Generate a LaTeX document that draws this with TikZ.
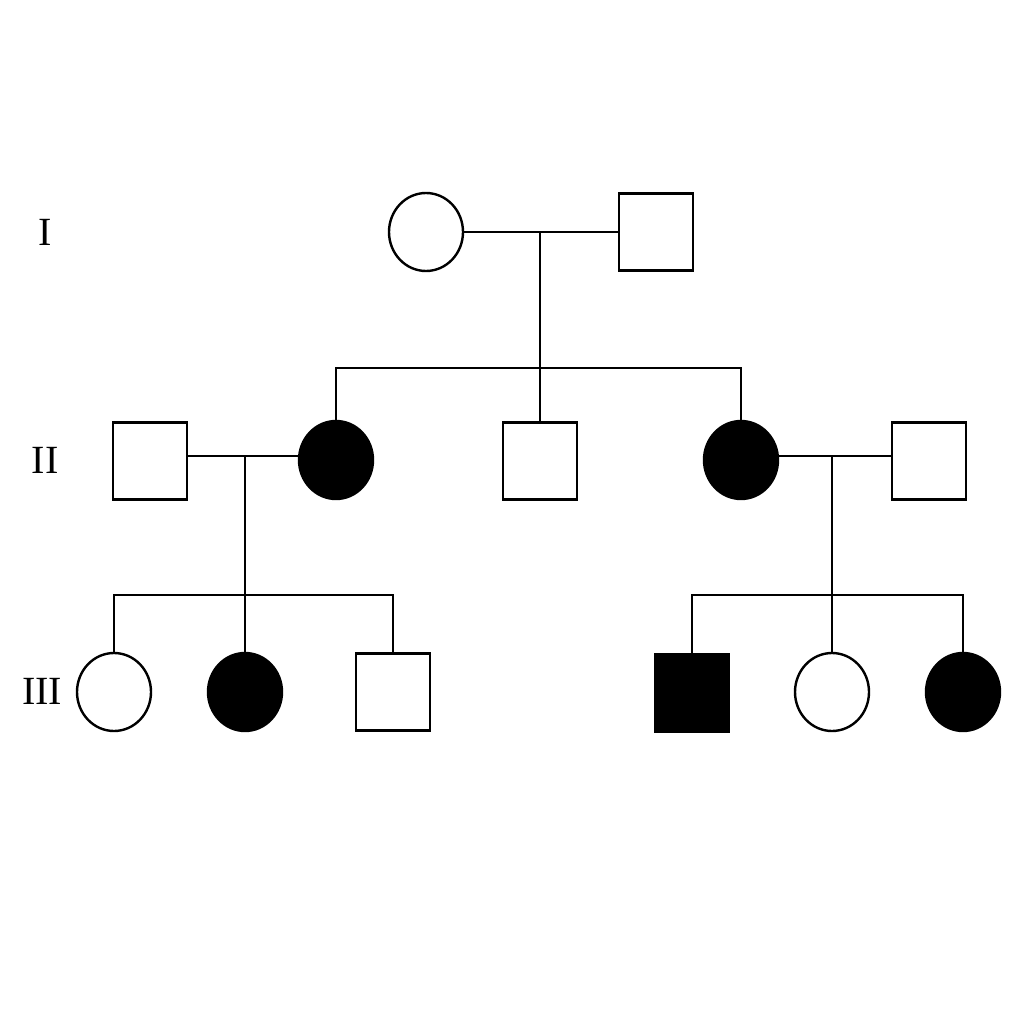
\documentclass[tikz,border=0pt]{standalone}
\usepackage{fontspec}
\setmainfont{Liberation Serif}
\usetikzlibrary{shapes.geometric}
\begin{document}
\begin{tikzpicture}[x=1pt,y=-1pt,line width=2.4pt,
  fem/.style={draw,ellipse,minimum width=74pt,minimum height=78pt,inner sep=0pt},
  mal/.style={draw,rectangle,minimum width=74pt,minimum height=77pt,inner sep=0pt},
  aff/.style={fill=black},
  gen/.style={font=\fontsize{40}{42}\selectfont,inner sep=0pt}]
\useasboundingbox (0,0) rectangle (1024,1024);
% labels
\node[gen] (gI) at (45,232) {I};
\node[gen] (gII) at (45,460) {II};
\node[gen] (gIII) at (42,691) {III};
% generation I
\node[fem] (i1) at (426,232) {};
\node[mal] (i2) at (656,232) {};
% generation II
\node[mal] (ii1) at (150,461) {};
\node[fem,aff] (ii2) at (336,460) {};
\node[mal] (ii3) at (540,461) {};
\node[fem,aff] (ii4) at (741,460) {};
\node[mal] (ii5) at (929,461) {};
% generation III
\node[fem] (iii1) at (114,692) {};
\node[fem,aff] (iii2) at (245,692) {};
\node[mal] (iii3) at (393,692) {};
\node[mal,aff] (iii4) at (692,693) {};
\node[fem] (iii5) at (832,692) {};
\node[fem,aff] (iii6) at (963,692) {};
% coordinates
\coordinate (m1) at (540,232);
\coordinate (s1) at (540,368);
\coordinate (m2) at (245,456);
\coordinate (s2) at (245,595);
\coordinate (m3) at (832,456);
\coordinate (s3) at (832,595);
% generation I family
\draw (i1.east) -- (i2.west);
\draw (m1) -- (s1);
\draw (ii2.north) |- (s1) -| (ii4.north);
\draw (s1) -- (ii3.north);
% left family
\draw (ii1.east |- m2) -- (ii2.west |- m2);
\draw (m2) -- (s2);
\draw (iii1.north) |- (s2) -| (iii3.north);
\draw (s2) -- (iii2.north);
% right family
\draw (ii4.east |- m3) -- (ii5.west |- m3);
\draw (m3) -- (s3);
\draw (iii4.north) |- (s3) -| (iii6.north);
\draw (s3) -- (iii5.north);
\end{tikzpicture}
\end{document}
